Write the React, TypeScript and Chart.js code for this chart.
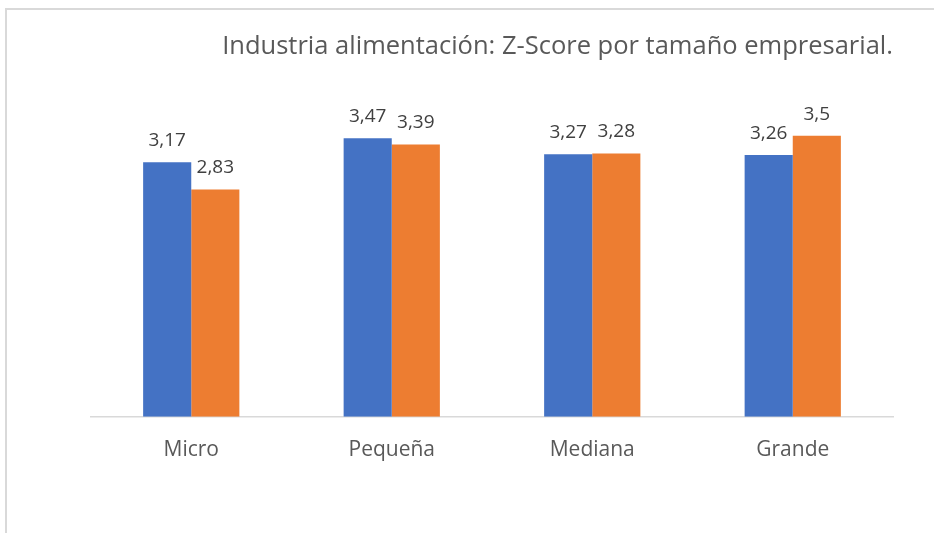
import React, { useEffect, useRef } from "react";
import { Chart, registerables } from "chart.js";

Chart.register(...registerables);

const categories = ["Micro", "Pequeña", "Mediana", "Grande"];
const seriesA = [3.17, 3.47, 3.27, 3.26];
const seriesB = [2.83, 3.39, 3.28, 3.5];
const titleText = "Industria alimentación: Z-Score por tamaño empresarial.";

const FONT = "'Open Sans', 'Noto Sans', sans-serif";

const labelPlugin = {
  id: "valueLabels",
  afterDatasetsDraw(chart: any) {
    const ctx = chart.ctx;
    ctx.save();
    ctx.font = `19px ${FONT}`;
    ctx.fillStyle = "#404040";
    ctx.textAlign = "center";
    ctx.textBaseline = "bottom";
    chart.data.datasets.forEach((ds: any, i: number) => {
      const meta = chart.getDatasetMeta(i);
      meta.data.forEach((bar: any, j: number) => {
        const v = ds.data[j];
        const txt = String(v).replace(".", ",");
        ctx.fillText(txt, bar.x, bar.y - 12);
      });
    });
    ctx.restore();
  },
};

const framePlugin = {
  id: "frame",
  beforeDraw(chart: any) {
    const ctx = chart.ctx;
    ctx.save();
    ctx.strokeStyle = "#D9D9D9";
    ctx.lineWidth = 2;
    ctx.beginPath();
    ctx.moveTo(6, chart.height);
    ctx.lineTo(6, 9);
    ctx.lineTo(chart.width, 9);
    ctx.stroke();
    ctx.restore();
  },
};

export default function App() {
  const ref = useRef<HTMLCanvasElement>(null);
  useEffect(() => {
    if (!ref.current) return;
    const chart = new Chart(ref.current, {
      type: "bar",
      data: {
        labels: categories,
        datasets: [
          { label: "A", data: seriesA, backgroundColor: "#4472C4", categoryPercentage: 0.48, barPercentage: 1.0 },
          { label: "B", data: seriesB, backgroundColor: "#ED7D31", categoryPercentage: 0.48, barPercentage: 1.0 },
        ],
      },
      options: {
        responsive: false,
        animation: false,
        layout: { padding: { left: 91, right: 41, top: 31, bottom: 49 } },
        plugins: {
          legend: { display: false },
          tooltip: { enabled: false },
          title: {
            display: true,
            text: titleText,
            align: "end",
            color: "#595959",
            font: { family: FONT, size: 25.5, weight: "normal" },
            padding: { top: 0, bottom: 34 },
          },
        },
        scales: {
          y: { display: false, min: 0, max: 4 },
          x: {
            grid: { display: false, drawTicks: false },
            border: { display: true, color: "#D9D9D9", width: 1.5 },
            ticks: { color: "#595959", font: { family: FONT, size: 21 }, padding: 21 },
          },
        },
      },
      plugins: [labelPlugin, framePlugin],
    });
    return () => chart.destroy();
  }, []);
  return (
    <div style={{ position: "fixed", left: 0, top: 0, width: 934, height: 533, overflow: "hidden", background: "#fff" }}>
      <canvas ref={ref} width={934} height={533} style={{ position: "absolute", left: 0, top: 0 }} />
    </div>
  );
}
